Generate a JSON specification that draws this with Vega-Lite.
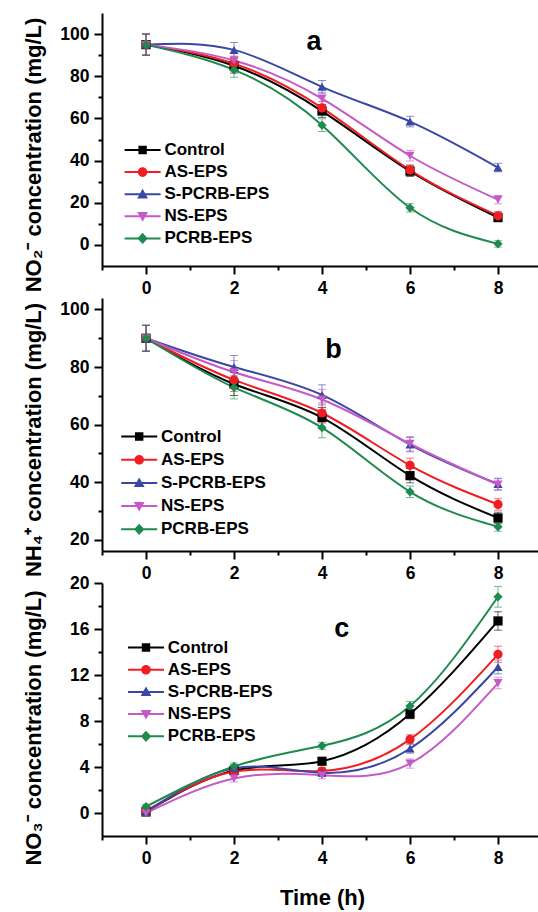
{
  "$schema": "https://vega.github.io/schema/vega-lite/v6.json",
  "background": "white",
  "padding": {"left": 21, "top": 13, "right": 0, "bottom": 5},
  "spacing": 32,
  "bounds": "flush",
  "config": {
    "view": {"stroke": null},
    "font": "Liberation Sans",
    "axis": {
      "grid": false, "domainColor": "#000000", "domainWidth": 2, "tickColor": "#000000", "tickWidth": 2,
      "tickSize": 8, "labelFont": "Liberation Sans", "labelFontSize": 17.5, "labelFontWeight": "bold",
      "labelColor": "#000000", "labelPadding": 5, "titleFont": "Liberation Sans", "titleFontSize": 22,
      "titleFontWeight": "bold", "titleColor": "#000000"
    },
    "legend": {
      "labelFont": "Liberation Sans", "labelFontSize": 17, "labelFontWeight": "bold", "labelColor": "#000000",
      "symbolOpacity": 1, "symbolStrokeWidth": 0.5
    }
  },
  "datasets": {
    "no2": [
      {"series": "Control", "time": 0, "value": 95, "err": 5},
      {"series": "Control", "time": 2, "value": 85, "err": 3.5},
      {"series": "Control", "time": 4, "value": 63.5, "err": 3},
      {"series": "Control", "time": 6, "value": 35, "err": 2.5},
      {"series": "Control", "time": 8, "value": 13, "err": 2},
      {"series": "AS-EPS", "time": 0, "value": 95, "err": 5},
      {"series": "AS-EPS", "time": 2, "value": 86, "err": 3.5},
      {"series": "AS-EPS", "time": 4, "value": 65, "err": 3},
      {"series": "AS-EPS", "time": 6, "value": 35.5, "err": 2.5},
      {"series": "AS-EPS", "time": 8, "value": 13.8, "err": 2},
      {"series": "S-PCRB-EPS", "time": 0, "value": 95, "err": 5},
      {"series": "S-PCRB-EPS", "time": 2, "value": 92.5, "err": 3.5},
      {"series": "S-PCRB-EPS", "time": 4, "value": 75, "err": 3},
      {"series": "S-PCRB-EPS", "time": 6, "value": 58.5, "err": 2.5},
      {"series": "S-PCRB-EPS", "time": 8, "value": 36.7, "err": 2},
      {"series": "NS-EPS", "time": 0, "value": 95, "err": 5},
      {"series": "NS-EPS", "time": 2, "value": 87.5, "err": 3.5},
      {"series": "NS-EPS", "time": 4, "value": 69.4, "err": 3},
      {"series": "NS-EPS", "time": 6, "value": 42.3, "err": 2.5},
      {"series": "NS-EPS", "time": 8, "value": 21.5, "err": 2},
      {"series": "PCRB-EPS", "time": 0, "value": 95, "err": 5},
      {"series": "PCRB-EPS", "time": 2, "value": 83, "err": 3.5},
      {"series": "PCRB-EPS", "time": 4, "value": 56.8, "err": 3},
      {"series": "PCRB-EPS", "time": 6, "value": 17.6, "err": 2},
      {"series": "PCRB-EPS", "time": 8, "value": 0.5, "err": 1.5}
    ],
    "nh4": [
      {"series": "Control", "time": 0, "value": 90, "err": 4.5},
      {"series": "Control", "time": 2, "value": 74.1, "err": 4},
      {"series": "Control", "time": 4, "value": 62.4, "err": 3.5},
      {"series": "Control", "time": 6, "value": 42.2, "err": 2.5},
      {"series": "Control", "time": 8, "value": 27.5, "err": 2},
      {"series": "AS-EPS", "time": 0, "value": 90, "err": 4.5},
      {"series": "AS-EPS", "time": 2, "value": 75.5, "err": 4},
      {"series": "AS-EPS", "time": 4, "value": 64, "err": 3.5},
      {"series": "AS-EPS", "time": 6, "value": 45.8, "err": 2.5},
      {"series": "AS-EPS", "time": 8, "value": 32.2, "err": 2},
      {"series": "S-PCRB-EPS", "time": 0, "value": 90, "err": 4.5},
      {"series": "S-PCRB-EPS", "time": 2, "value": 80, "err": 4},
      {"series": "S-PCRB-EPS", "time": 4, "value": 70.3, "err": 3.5},
      {"series": "S-PCRB-EPS", "time": 6, "value": 53, "err": 2.5},
      {"series": "S-PCRB-EPS", "time": 8, "value": 39.3, "err": 2},
      {"series": "NS-EPS", "time": 0, "value": 90, "err": 4.5},
      {"series": "NS-EPS", "time": 2, "value": 78.2, "err": 4},
      {"series": "NS-EPS", "time": 4, "value": 68.7, "err": 3.5},
      {"series": "NS-EPS", "time": 6, "value": 53.3, "err": 2.5},
      {"series": "NS-EPS", "time": 8, "value": 39.1, "err": 2},
      {"series": "PCRB-EPS", "time": 0, "value": 90, "err": 4.5},
      {"series": "PCRB-EPS", "time": 2, "value": 72.9, "err": 4},
      {"series": "PCRB-EPS", "time": 4, "value": 58.9, "err": 3.5},
      {"series": "PCRB-EPS", "time": 6, "value": 36.6, "err": 2},
      {"series": "PCRB-EPS", "time": 8, "value": 24.4, "err": 1.5}
    ],
    "no3": [
      {"series": "Control", "time": 0, "value": 0.1, "err": 0.2},
      {"series": "Control", "time": 2, "value": 3.7, "err": 0.3},
      {"series": "Control", "time": 4, "value": 4.5, "err": 0.3},
      {"series": "Control", "time": 6, "value": 8.6, "err": 0.4},
      {"series": "Control", "time": 8, "value": 16.7, "err": 0.8},
      {"series": "AS-EPS", "time": 0, "value": 0.2, "err": 0.2},
      {"series": "AS-EPS", "time": 2, "value": 3.6, "err": 0.3},
      {"series": "AS-EPS", "time": 4, "value": 3.65, "err": 0.3},
      {"series": "AS-EPS", "time": 6, "value": 6.4, "err": 0.4},
      {"series": "AS-EPS", "time": 8, "value": 13.8, "err": 0.7},
      {"series": "S-PCRB-EPS", "time": 0, "value": 0.05, "err": 0.2},
      {"series": "S-PCRB-EPS", "time": 2, "value": 3.9, "err": 0.3},
      {"series": "S-PCRB-EPS", "time": 4, "value": 3.5, "err": 0.3},
      {"series": "S-PCRB-EPS", "time": 6, "value": 5.6, "err": 0.4},
      {"series": "S-PCRB-EPS", "time": 8, "value": 12.7, "err": 0.6},
      {"series": "NS-EPS", "time": 0, "value": 0, "err": 0.2},
      {"series": "NS-EPS", "time": 2, "value": 3.0, "err": 0.3},
      {"series": "NS-EPS", "time": 4, "value": 3.28, "err": 0.3},
      {"series": "NS-EPS", "time": 6, "value": 4.3, "err": 0.4},
      {"series": "NS-EPS", "time": 8, "value": 11.3, "err": 0.5},
      {"series": "PCRB-EPS", "time": 0, "value": 0.55, "err": 0.2},
      {"series": "PCRB-EPS", "time": 2, "value": 4.05, "err": 0.3},
      {"series": "PCRB-EPS", "time": 4, "value": 5.84, "err": 0.3},
      {"series": "PCRB-EPS", "time": 6, "value": 9.3, "err": 0.4},
      {"series": "PCRB-EPS", "time": 8, "value": 18.8, "err": 0.9}
    ]
  },
  "resolve": {
    "scale": {"x": "independent", "y": "independent", "color": "independent", "shape": "independent"}
  },
  "vconcat": [
    {
      "width": 440, "height": 253,
      "data": {"name": "no2"},
      "resolve": {"axis": {"x": "independent", "y": "independent"}, "scale": {"shape": "independent", "color": "independent"}},
      "layer": [
        {
          "mark": {"type": "line", "interpolate": "natural", "strokeWidth": 2},
          "encoding": {
            "x": {"field": "time", "type": "quantitative", "scale": {"domain": [-1, 9], "nice": false, "zero": false},
              "axis": {"orient": "bottom", "values": [0, 2, 4, 6, 8], "title": null, "labelPadding": 5}},
            "y": {"field": "value", "type": "quantitative", "scale": {"domain": [-10, 110], "nice": false, "zero": false},
              "axis": {"orient": "left", "values": [0, 20, 40, 60, 80, 100], "title": "NO₂⁻ concentration (mg/L)",
                "titleX": -57, "titleY": 141.5, "titleAngle": -90, "titleBaseline": "bottom", "titleAlign": "center"}},
            "color": {"field": "series", "type": "nominal", "legend": null,
              "scale": {"domain": ["Control", "AS-EPS", "S-PCRB-EPS", "NS-EPS", "PCRB-EPS"], "range": ["#000000", "#f01e23", "#3a47a5", "#c45ac8", "#1e8a4e"]}}
          }
        },
        {
          "mark": {"type": "errorbar", "ticks": {"size": 8, "thickness": 1}, "rule": {"strokeWidth": 1}, "opacity": 0.6},
          "encoding": {
            "x": {"field": "time", "type": "quantitative", "scale": {"domain": [-1, 9], "nice": false, "zero": false}, "axis": null},
            "y": {"field": "value", "type": "quantitative", "scale": {"domain": [-10, 110], "nice": false, "zero": false}, "axis": null},
            "yError": {"field": "err"},
            "color": {"field": "series", "type": "nominal", "legend": null,
              "scale": {"domain": ["Control", "AS-EPS", "S-PCRB-EPS", "NS-EPS", "PCRB-EPS"], "range": ["#000000", "#f01e23", "#3a47a5", "#c45ac8", "#1e8a4e"]}}
          }
        },
        {
          "mark": {"type": "point", "filled": true, "size": 85, "opacity": 1},
          "encoding": {
            "x": {"field": "time", "type": "quantitative", "scale": {"domain": [-1, 9], "nice": false, "zero": false},
              "axis": {"orient": "bottom", "values": [-1, 1, 3, 5, 7, 9], "tickSize": 4, "labels": false, "domain": false, "title": null}},
            "y": {"field": "value", "type": "quantitative", "scale": {"domain": [-10, 110], "nice": false, "zero": false},
              "axis": {"orient": "left", "values": [10, 30, 50, 70, 90], "tickSize": 4, "labels": false, "domain": false, "title": null}},
            "color": {"field": "series", "type": "nominal", "legend": null,
              "scale": {"domain": ["Control", "AS-EPS", "S-PCRB-EPS", "NS-EPS", "PCRB-EPS"], "range": ["#000000", "#f01e23", "#3a47a5", "#c45ac8", "#1e8a4e"]}},
            "shape": {"field": "series", "type": "nominal", "legend": null,
              "scale": {"domain": ["Control", "AS-EPS", "S-PCRB-EPS", "NS-EPS", "PCRB-EPS"], "range": ["square", "circle", "triangle-up", "triangle-down", "diamond"]}}
          }
        },
        {
          "mark": {"type": "point", "filled": true, "opacity": 0},
          "encoding": {
            "x": {"field": "time", "type": "quantitative", "axis": null},
            "y": {"field": "value", "type": "quantitative", "axis": null},
            "color": {"field": "series", "type": "nominal",
              "scale": {"domain": ["Control", "AS-EPS", "S-PCRB-EPS", "NS-EPS", "PCRB-EPS"], "range": ["#000000", "#f01e23", "#3a47a5", "#c45ac8", "#1e8a4e"]}},
            "shape": {"field": "series", "type": "nominal",
              "scale": {"domain": ["Control", "AS-EPS", "S-PCRB-EPS", "NS-EPS", "PCRB-EPS"],
                "range": ["M-4.5,-0.25H4.5V0.25H-4.5Z M-1.05,-1.05H1.05V1.05H-1.05Z", "M-4.5,-0.25H4.5V0.25H-4.5Z M-1.2,0A1.2,1.2,0,1,1,1.2,0A1.2,1.2,0,1,1,-1.2,0Z", "M-4.5,-0.25H4.5V0.25H-4.5Z M0,-1.35L1.35,1.05H-1.35Z", "M-4.5,-0.25H4.5V0.25H-4.5Z M0,1.35L-1.35,-1.05H1.35Z", "M-4.5,-0.25H4.5V0.25H-4.5Z M0,-1.4L1.3,0L0,1.4L-1.3,0Z"]},
              "legend": {"orient": "none", "legendX": 17.8, "legendY": 128.5, "title": null, "rowPadding": 4.1, "labelOffset": 13.3, "symbolOffset": 14.3, "symbolSize": 64, "padding": 0, "symbolOpacity": 1, "symbolStrokeWidth": 0.5}
            }
          }
        },
        {
          "data": {"values": [{"label": "a"}]},
          "mark": {"type": "text", "fontSize": 27, "fontWeight": "bold", "font": "Liberation Sans", "baseline": "alphabetic", "align": "center", "color": "#000000"},
          "encoding": {
            "x": {"datum": 3.82, "type": "quantitative", "axis": null},
            "y": {"datum": 92.5, "type": "quantitative", "axis": null},
            "text": {"field": "label"}
          }
        }
      ]
    },
    {
      "width": 440, "height": 253,
      "data": {"name": "nh4"},
      "resolve": {"axis": {"x": "independent", "y": "independent"}, "scale": {"shape": "independent", "color": "independent"}},
      "layer": [
        {
          "mark": {"type": "line", "interpolate": "natural", "strokeWidth": 2},
          "encoding": {
            "x": {"field": "time", "type": "quantitative", "scale": {"domain": [-1, 9], "nice": false, "zero": false},
              "axis": {"orient": "bottom", "values": [0, 2, 4, 6, 8], "title": null, "labelPadding": 5}},
            "y": {"field": "value", "type": "quantitative", "scale": {"domain": [16, 104], "nice": false, "zero": false},
              "axis": {"orient": "left", "values": [20, 40, 60, 80, 100], "title": "NH₄⁺ concentration (mg/L)",
                "titleX": -57, "titleY": 141.5, "titleAngle": -90, "titleBaseline": "bottom", "titleAlign": "center"}},
            "color": {"field": "series", "type": "nominal", "legend": null,
              "scale": {"domain": ["Control", "AS-EPS", "S-PCRB-EPS", "NS-EPS", "PCRB-EPS"], "range": ["#000000", "#f01e23", "#3a47a5", "#c45ac8", "#1e8a4e"]}}
          }
        },
        {
          "mark": {"type": "errorbar", "ticks": {"size": 8, "thickness": 1}, "rule": {"strokeWidth": 1}, "opacity": 0.6},
          "encoding": {
            "x": {"field": "time", "type": "quantitative", "scale": {"domain": [-1, 9], "nice": false, "zero": false}, "axis": null},
            "y": {"field": "value", "type": "quantitative", "scale": {"domain": [16, 104], "nice": false, "zero": false}, "axis": null},
            "yError": {"field": "err"},
            "color": {"field": "series", "type": "nominal", "legend": null,
              "scale": {"domain": ["Control", "AS-EPS", "S-PCRB-EPS", "NS-EPS", "PCRB-EPS"], "range": ["#000000", "#f01e23", "#3a47a5", "#c45ac8", "#1e8a4e"]}}
          }
        },
        {
          "mark": {"type": "point", "filled": true, "size": 85, "opacity": 1},
          "encoding": {
            "x": {"field": "time", "type": "quantitative", "scale": {"domain": [-1, 9], "nice": false, "zero": false},
              "axis": {"orient": "bottom", "values": [-1, 1, 3, 5, 7, 9], "tickSize": 4, "labels": false, "domain": false, "title": null}},
            "y": {"field": "value", "type": "quantitative", "scale": {"domain": [16, 104], "nice": false, "zero": false},
              "axis": {"orient": "left", "values": [30, 50, 70, 90], "tickSize": 4, "labels": false, "domain": false, "title": null}},
            "color": {"field": "series", "type": "nominal", "legend": null,
              "scale": {"domain": ["Control", "AS-EPS", "S-PCRB-EPS", "NS-EPS", "PCRB-EPS"], "range": ["#000000", "#f01e23", "#3a47a5", "#c45ac8", "#1e8a4e"]}},
            "shape": {"field": "series", "type": "nominal", "legend": null,
              "scale": {"domain": ["Control", "AS-EPS", "S-PCRB-EPS", "NS-EPS", "PCRB-EPS"], "range": ["square", "circle", "triangle-up", "triangle-down", "diamond"]}}
          }
        },
        {
          "mark": {"type": "point", "filled": true, "opacity": 0},
          "encoding": {
            "x": {"field": "time", "type": "quantitative", "axis": null},
            "y": {"field": "value", "type": "quantitative", "axis": null},
            "color": {"field": "series", "type": "nominal",
              "scale": {"domain": ["Control", "AS-EPS", "S-PCRB-EPS", "NS-EPS", "PCRB-EPS"], "range": ["#000000", "#f01e23", "#3a47a5", "#c45ac8", "#1e8a4e"]}},
            "shape": {"field": "series", "type": "nominal",
              "scale": {"domain": ["Control", "AS-EPS", "S-PCRB-EPS", "NS-EPS", "PCRB-EPS"],
                "range": ["M-4.5,-0.25H4.5V0.25H-4.5Z M-1.05,-1.05H1.05V1.05H-1.05Z", "M-4.5,-0.25H4.5V0.25H-4.5Z M-1.2,0A1.2,1.2,0,1,1,1.2,0A1.2,1.2,0,1,1,-1.2,0Z", "M-4.5,-0.25H4.5V0.25H-4.5Z M0,-1.35L1.35,1.05H-1.35Z", "M-4.5,-0.25H4.5V0.25H-4.5Z M0,1.35L-1.35,-1.05H1.35Z", "M-4.5,-0.25H4.5V0.25H-4.5Z M0,-1.4L1.3,0L0,1.4L-1.3,0Z"]},
              "legend": {"orient": "none", "legendX": 14.4, "legendY": 130, "title": null, "rowPadding": 5.2, "labelOffset": 13.3, "symbolOffset": 14.3, "symbolSize": 64, "padding": 0, "symbolOpacity": 1, "symbolStrokeWidth": 0.5}
            }
          }
        },
        {
          "data": {"values": [{"label": "b"}]},
          "mark": {"type": "text", "fontSize": 27, "fontWeight": "bold", "font": "Liberation Sans", "baseline": "alphabetic", "align": "center", "color": "#000000"},
          "encoding": {
            "x": {"datum": 4.26, "type": "quantitative", "axis": null},
            "y": {"datum": 83, "type": "quantitative", "axis": null},
            "text": {"field": "label"}
          }
        }
      ]
    },
    {
      "width": 440, "height": 253,
      "data": {"name": "no3"},
      "resolve": {"axis": {"x": "independent", "y": "independent"}, "scale": {"shape": "independent", "color": "independent"}},
      "layer": [
        {
          "mark": {"type": "line", "interpolate": "natural", "strokeWidth": 2},
          "encoding": {
            "x": {"field": "time", "type": "quantitative", "scale": {"domain": [-1, 9], "nice": false, "zero": false},
              "axis": {"orient": "bottom", "values": [0, 2, 4, 6, 8], "title": "Time (h)", "labelPadding": 5, "titlePadding": 21}},
            "y": {"field": "value", "type": "quantitative", "scale": {"domain": [-2, 20], "nice": false, "zero": false},
              "axis": {"orient": "left", "values": [0, 4, 8, 12, 16, 20], "title": "NO₃⁻ concentration (mg/L)",
                "titleX": -57, "titleY": 144.5, "titleAngle": -90, "titleBaseline": "bottom", "titleAlign": "center"}},
            "color": {"field": "series", "type": "nominal", "legend": null,
              "scale": {"domain": ["Control", "AS-EPS", "S-PCRB-EPS", "NS-EPS", "PCRB-EPS"], "range": ["#000000", "#f01e23", "#3a47a5", "#c45ac8", "#1e8a4e"]}}
          }
        },
        {
          "mark": {"type": "errorbar", "ticks": {"size": 8, "thickness": 1}, "rule": {"strokeWidth": 1}, "opacity": 0.6},
          "encoding": {
            "x": {"field": "time", "type": "quantitative", "scale": {"domain": [-1, 9], "nice": false, "zero": false}, "axis": null},
            "y": {"field": "value", "type": "quantitative", "scale": {"domain": [-2, 20], "nice": false, "zero": false}, "axis": null},
            "yError": {"field": "err"},
            "color": {"field": "series", "type": "nominal", "legend": null,
              "scale": {"domain": ["Control", "AS-EPS", "S-PCRB-EPS", "NS-EPS", "PCRB-EPS"], "range": ["#000000", "#f01e23", "#3a47a5", "#c45ac8", "#1e8a4e"]}}
          }
        },
        {
          "mark": {"type": "point", "filled": true, "size": 85, "opacity": 1},
          "encoding": {
            "x": {"field": "time", "type": "quantitative", "scale": {"domain": [-1, 9], "nice": false, "zero": false},
              "axis": {"orient": "bottom", "values": [-1, 1, 3, 5, 7, 9], "tickSize": 4, "labels": false, "domain": false, "title": null}},
            "y": {"field": "value", "type": "quantitative", "scale": {"domain": [-2, 20], "nice": false, "zero": false},
              "axis": {"orient": "left", "values": [2, 6, 10, 14, 18], "tickSize": 4, "labels": false, "domain": false, "title": null}},
            "color": {"field": "series", "type": "nominal", "legend": null,
              "scale": {"domain": ["Control", "AS-EPS", "S-PCRB-EPS", "NS-EPS", "PCRB-EPS"], "range": ["#000000", "#f01e23", "#3a47a5", "#c45ac8", "#1e8a4e"]}},
            "shape": {"field": "series", "type": "nominal", "legend": null,
              "scale": {"domain": ["Control", "AS-EPS", "S-PCRB-EPS", "NS-EPS", "PCRB-EPS"], "range": ["square", "circle", "triangle-up", "triangle-down", "diamond"]}}
          }
        },
        {
          "mark": {"type": "point", "filled": true, "opacity": 0},
          "encoding": {
            "x": {"field": "time", "type": "quantitative", "axis": null},
            "y": {"field": "value", "type": "quantitative", "axis": null},
            "color": {"field": "series", "type": "nominal",
              "scale": {"domain": ["Control", "AS-EPS", "S-PCRB-EPS", "NS-EPS", "PCRB-EPS"], "range": ["#000000", "#f01e23", "#3a47a5", "#c45ac8", "#1e8a4e"]}},
            "shape": {"field": "series", "type": "nominal",
              "scale": {"domain": ["Control", "AS-EPS", "S-PCRB-EPS", "NS-EPS", "PCRB-EPS"],
                "range": ["M-4.5,-0.25H4.5V0.25H-4.5Z M-1.05,-1.05H1.05V1.05H-1.05Z", "M-4.5,-0.25H4.5V0.25H-4.5Z M-1.2,0A1.2,1.2,0,1,1,1.2,0A1.2,1.2,0,1,1,-1.2,0Z", "M-4.5,-0.25H4.5V0.25H-4.5Z M0,-1.35L1.35,1.05H-1.35Z", "M-4.5,-0.25H4.5V0.25H-4.5Z M0,1.35L-1.35,-1.05H1.35Z", "M-4.5,-0.25H4.5V0.25H-4.5Z M0,-1.4L1.3,0L0,1.4L-1.3,0Z"]},
              "legend": {"orient": "none", "legendX": 21.2, "legendY": 56, "title": null, "rowPadding": 4.2, "labelOffset": 13.3, "symbolOffset": 14.3, "symbolSize": 64, "padding": 0, "symbolOpacity": 1, "symbolStrokeWidth": 0.5}
            }
          }
        },
        {
          "data": {"values": [{"label": "c"}]},
          "mark": {"type": "text", "fontSize": 27, "fontWeight": "bold", "font": "Liberation Sans", "baseline": "alphabetic", "align": "center", "color": "#000000"},
          "encoding": {
            "x": {"datum": 4.45, "type": "quantitative", "axis": null},
            "y": {"datum": 15.3, "type": "quantitative", "axis": null},
            "text": {"field": "label"}
          }
        }
      ]
    }
  ]
}
